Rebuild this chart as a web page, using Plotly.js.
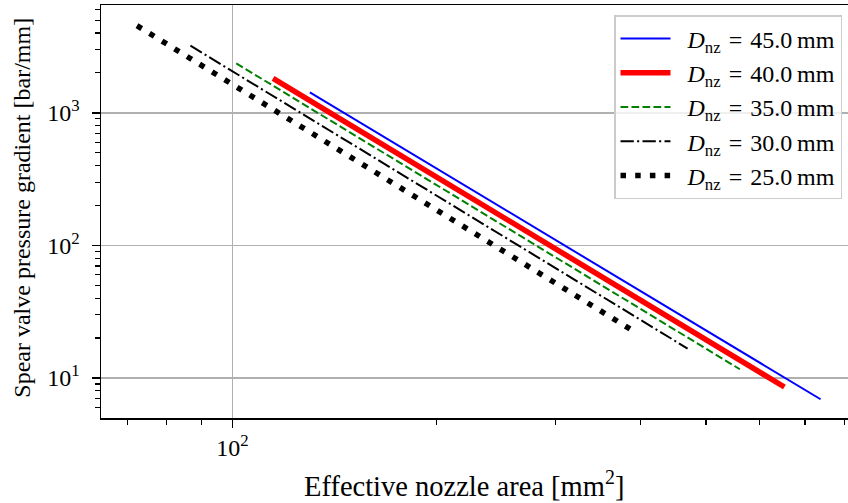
<!DOCTYPE html>
<html>
<head>
<meta charset="utf-8">
<script src="https://cdn.plot.ly/plotly-3.0.1.min.js"></script>
<style>
html,body{margin:0;padding:0;overflow:hidden;background:#fff;}
#chart{width:850px;height:503px;}
</style>
</head>
<body>
<div id="chart"></div>
<script>
// Data (effective nozzle area [mm^2] vs pressure gradient [bar/mm])
const labels = ['45.0', '40.0', '35.0', '30.0', '25.0'];
const area45 = [130.1, 738];
const grad45 = [1425, 6.91];
const area40 = [114.8, 652.6];
const grad40 = [1819, 8.55];
const area35 = [101.3, 561];
const grad35 = [2360, 11.63];
const area30 = [86.7, 469.6];
const grad30 = [3206, 16.67];
const area25 = [72.3, 387.3];
const grad25 = [4540, 23.2];

const xMajor = [100];
const xMajorText = ['10<sup>2</sup>'];
const xMinor = [70, 80, 90, 200, 300, 400, 500, 600, 700, 800];
const yMajor = [10, 100, 1000];
const yMajorText = ['10<sup>1</sup>', '10<sup>2</sup>', '10<sup>3</sup>'];
const yMinor = [6, 7, 8, 9, 20, 30, 40, 50, 60, 70, 80, 90, 200, 300, 400, 500, 600, 700, 800, 900, 2000, 3000, 4000, 5000, 6000];
const xTitle = 'Effective nozzle area [mm<sup>2</sup>]';
const yTitle = 'Spear valve pressure gradient [bar/mm]';

const FONT = '"Liberation Serif", "Times New Roman", "DejaVu Serif", serif';
const name = l => '\u2002<i>D</i><sub>nz</sub>\u2004=\u2004' + l + '\u2009mm';

const traces = [
  {x: area45, y: grad45, name: name(labels[0]), mode: 'lines', line: {color: '#0000ff', width: 2}},
  {x: area40, y: grad40, name: name(labels[1]), mode: 'lines', line: {color: '#ff0000', width: 5.5}},
  {x: area35, y: grad35, name: name(labels[2]), mode: 'lines', line: {color: '#008000', width: 2, dash: '7.7px,3.3px'}},
  {x: area30, y: grad30, name: name(labels[3]), mode: 'lines', line: {color: '#000000', width: 2, dash: '13.3px,3.3px,2.1px,3.3px'}},
  {x: area25, y: grad25, name: name(labels[4]), mode: 'lines', line: {color: '#000000', width: 5.5, dash: '5.5px,9.2px'}}
];

const plotL = 100.5, plotR = 850, plotT = 5, plotB = 417.7;
const W = plotR - plotL, H = plotB - plotT;
const px2x = p => (p - plotL) / W;
const px2y = p => (plotB - p) / H;

const layout = {
  width: 850, height: 503,
  margin: {l: plotL, r: 850 - plotR, t: plotT, b: 503 - plotB, pad: 0},
  paper_bgcolor: '#fff', plot_bgcolor: '#fff',
  font: {family: FONT, size: 23, color: '#000'},
  showlegend: true,
  legend: {
    x: px2x(842), xanchor: 'right',
    y: px2y(15), yanchor: 'top',
    bgcolor: 'rgba(255,255,255,0.8)', bordercolor: '#cccccc', borderwidth: 1.5,
    font: {family: FONT, size: 24, color: '#000'},
    itemwidth: 50,
    tracegroupgap: 0
  },
  xaxis: {
    type: 'log', range: [1.806, 2.9115],
    tickmode: 'array', tickvals: xMajor, ticktext: xMajorText,
    ticks: 'outside', ticklen: 8, tickwidth: 1.5, tickcolor: '#000',
    showline: true, linecolor: '#000', linewidth: 1.5, mirror: true,
    showgrid: true, gridcolor: '#b0b0b0', gridwidth: 1.5,
    zeroline: false, automargin: false,
    tickfont: {family: FONT, size: 24, color: '#000'},
    minor: {tickmode: 'array', tickvals: xMinor, ticks: 'outside', ticklen: 5, tickwidth: 1.2, tickcolor: '#000', showgrid: false}
  },
  yaxis: {
    type: 'log', range: [0.698, 3.813],
    tickmode: 'array', tickvals: yMajor, ticktext: yMajorText,
    ticks: 'outside', ticklen: 8, tickwidth: 1.5, tickcolor: '#000',
    ticklabelstandoff: 7,
    showline: true, linecolor: '#000', linewidth: 1.5, mirror: true,
    showgrid: true, gridcolor: '#b0b0b0', gridwidth: 1.5,
    zeroline: false, automargin: false,
    tickfont: {family: FONT, size: 24, color: '#000'},
    minor: {tickmode: 'array', tickvals: yMinor, ticks: 'outside', ticklen: 5, tickwidth: 1.2, tickcolor: '#000', showgrid: false}
  },
  annotations: [
    {text: xTitle, xref: 'paper', yref: 'paper', x: px2x(464), y: px2y(484), xanchor: 'center', yanchor: 'middle',
     showarrow: false, font: {family: FONT, size: 28.5, color: '#000'}},
    {text: yTitle, xref: 'paper', yref: 'paper', x: px2x(22), y: px2y(208), xanchor: 'center', yanchor: 'middle',
     textangle: -90, showarrow: false, font: {family: FONT, size: 24, color: '#000'}}
  ]
};

Plotly.newPlot('chart', traces, layout, {displayModeBar: false, staticPlot: true});
</script>
</body>
</html>
